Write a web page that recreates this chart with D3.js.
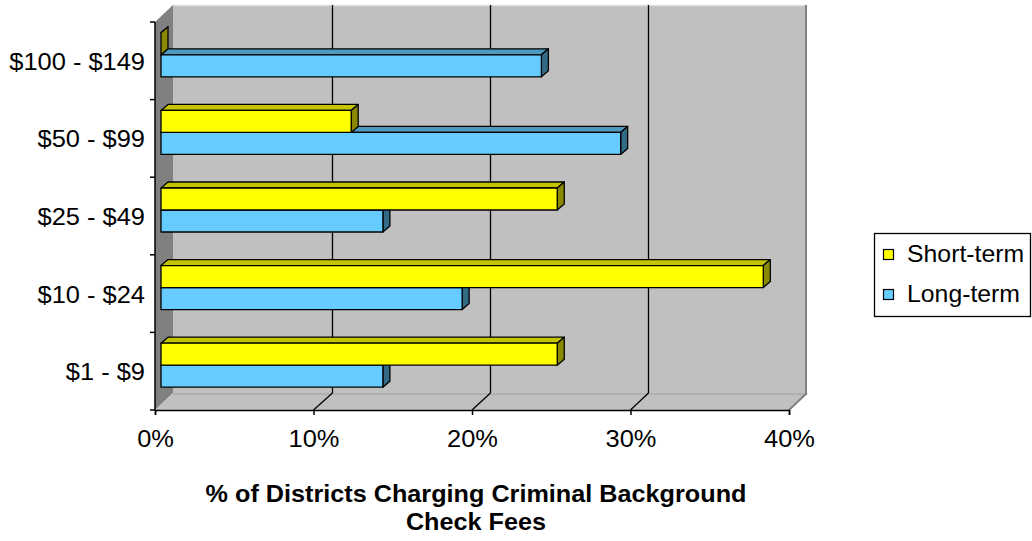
<!DOCTYPE html>
<html>
<head>
<meta charset="utf-8">
<script src="https://cdn.jsdelivr.net/npm/d3@7"></script>
<style>
  html, body { margin: 0; padding: 0; background: #ffffff; }
  svg { display: block; }
  text { font-family: "Liberation Sans", Arial, sans-serif; fill: #000; }
</style>
</head>
<body>
<svg id="chart" width="1032" height="541"></svg>
<script>
// Fee ranges, listed top to bottom as they appear on the chart
const categories = ["$100 - $149", "$50 - $99", "$25 - $49", "$10 - $24", "$1 - $9"];
const seriesNames = ["Short-term", "Long-term"];
// Share of districts charging each fee range (fractions)
const shortTerm = [0.00, 0.12, 0.25, 0.38, 0.25];
const longTerm  = [0.24, 0.29, 0.14, 0.19, 0.14];
const xTicks = [0, 0.1, 0.2, 0.3, 0.4];
const titleLines = ["% of Districts Charging Criminal Background", "Check Fees"];

const colors = {
  "Short-term": { front: "#ffff00", top: "#c4c400", side: "#8a8a00" },
  "Long-term":  { front: "#66ccff", top: "#4d99c0", side: "#336a86" }
};

const svg = d3.select("#chart");
const SX = 1.06; // slight horizontal stretch of the lettering
const FONT = '"Liberation Sans", Arial, sans-serif';

// Front plane of the 3-D plot box
const plot = { left: 155, right: 789, top: 22, bottom: 410 };
const depth = { dx: 18, dy: -17 };     // wall depth
const barOff = { dx: 6, dy: -6 };      // bars sit a third of the way back
const barDepth = { dx: 7, dy: -6 };

const x = d3.scaleLinear().domain([0, 0.4]).range([plot.left, plot.right]);
const y = d3.scaleBand().domain(categories)
  .range([plot.top, plot.bottom])
  .paddingInner(0.433).paddingOuter(0.2165);
const ySub = d3.scaleBand().domain(seriesNames).range([0, y.bandwidth()]);

const pts = a => a.map(p => p.join(",")).join(" ");

// ---- walls ----
const bx0 = plot.left + depth.dx, bx1 = plot.right + depth.dx;
const by0 = plot.top + depth.dy,  by1 = plot.bottom + depth.dy;

// side wall
svg.append("polygon")
  .attr("points", pts([[plot.left, plot.top], [bx0, by0], [bx0, by1], [plot.left, plot.bottom]]))
  .attr("fill", "#808080");
// back wall
svg.append("rect")
  .attr("x", bx0).attr("y", by0).attr("width", bx1 - bx0).attr("height", by1 - by0)
  .attr("fill", "#c0c0c0");
svg.append("line").attr("x1", bx0).attr("x2", bx1).attr("y1", by0 + 0.5).attr("y2", by0 + 0.5)
  .attr("stroke", "#e0e0e0").attr("stroke-width", 1.5);
svg.append("line").attr("x1", bx1 - 1).attr("x2", bx1 - 1).attr("y1", by0).attr("y2", by1)
  .attr("stroke", "#808080").attr("stroke-width", 2);
// floor
svg.append("polygon")
  .attr("points", pts([[plot.left, plot.bottom], [plot.right, plot.bottom], [bx1, by1], [bx0, by1]]))
  .attr("fill", "#c0c0c0");
svg.append("line").attr("x1", bx0).attr("x2", bx1).attr("y1", by1 + 1).attr("y2", by1 + 1)
  .attr("stroke", "#a0a0a0").attr("stroke-width", 1);
svg.append("line").attr("x1", plot.right).attr("y1", plot.bottom).attr("x2", bx1).attr("y2", by1)
  .attr("stroke", "#808080").attr("stroke-width", 2);

// gridlines on back wall and floor
const grid = svg.append("g").attr("stroke", "#000").attr("stroke-width", 1.3);
xTicks.filter(t => t > 0 && t < 0.4).forEach(t => {
  const gx = Math.round(x(t)) + depth.dx + 0.5;
  grid.append("line").attr("x1", gx).attr("x2", gx).attr("y1", by0).attr("y2", by1);
  grid.append("line").attr("x1", x(t)).attr("y1", plot.bottom).attr("x2", gx).attr("y2", by1);
});

// ---- bars ----
function drawBar(g, value, yTop, c) {
  const x0 = x(0) + barOff.dx, x1 = x(value) + barOff.dx;
  const y0 = yTop, h = ySub.bandwidth();
  const s = { stroke: "#000", "stroke-width": 1.3, "stroke-linejoin": "round" };
  const top = g.append("polygon").attr("points",
    pts([[x0, y0], [x0 + barDepth.dx, y0 + barDepth.dy], [x1 + barDepth.dx, y0 + barDepth.dy], [x1, y0]]))
    .attr("fill", c.top);
  const side = g.append("polygon").attr("points",
    pts([[x1, y0], [x1 + barDepth.dx, y0 + barDepth.dy], [x1 + barDepth.dx, y0 + h + barDepth.dy], [x1, y0 + h]]))
    .attr("fill", c.side);
  const front = g.append("rect").attr("x", x0).attr("y", y0).attr("width", Math.max(0, x1 - x0)).attr("height", h)
    .attr("fill", c.front);
  [top, side, front].forEach(el => Object.entries(s).forEach(([k, v]) => el.attr(k, v)));
}

const bars = svg.append("g");
categories.forEach((cat, i) => {
  const g = bars.append("g");
  // lower bar first so the upper one covers its top edge
  drawBar(g, longTerm[i], y(cat) + barOff.dy + ySub("Long-term"), colors["Long-term"]);
  drawBar(g, shortTerm[i], y(cat) + barOff.dy + ySub("Short-term"), colors["Short-term"]);
});

// ---- axes ----
// value axis along the front edge of the floor
const xAxis = d3.axisBottom(x).tickValues(xTicks).tickFormat(d3.format(".0%")).tickSize(5);
const gx = svg.append("g").attr("transform", `translate(0,${plot.bottom})`).call(xAxis);
gx.select(".domain").attr("stroke", "#000").attr("stroke-width", 1.5);
gx.selectAll(".tick line").attr("stroke", "#000").attr("stroke-width", 1.5);
gx.selectAll(".tick text")
  .style("font-family", FONT).style("font-size", "24px")
  .attr("y", 37).attr("dy", null)
  .attr("transform", `scale(${SX},1)`);

// category axis: labels at band centres, ticks at category boundaries
const yCenter = d3.scalePoint().domain(categories)
  .range([y(categories[0]) + y.bandwidth() / 2, y(categories[categories.length - 1]) + y.bandwidth() / 2]);
const yAxis = d3.axisLeft(yCenter).tickSize(0);
const gy = svg.append("g").attr("transform", `translate(${plot.left},0)`).call(yAxis);
gy.select(".domain").remove();
gy.selectAll(".tick text")
  .style("font-family", FONT).style("font-size", "24px")
  .attr("text-anchor", "end")
  .attr("x", -10 / SX).attr("dy", "0.35em")
  .attr("transform", `scale(${SX},1)`);
svg.append("line").attr("x1", plot.left).attr("x2", plot.left).attr("y1", plot.top).attr("y2", plot.bottom)
  .attr("stroke", "#000").attr("stroke-width", 1.5);
const bounds = d3.range(categories.length + 1).map(k => plot.top + k * y.step());
svg.append("g").selectAll("line").data(bounds).join("line")
  .attr("x1", plot.left - 5).attr("x2", plot.left).attr("y1", d => d).attr("y2", d => d)
  .attr("stroke", "#000").attr("stroke-width", 1.5);

// ---- axis title ----
const titleX = 476;
svg.append("g").selectAll("text").data(titleLines).join("text")
  .attr("transform", (d, i) => `translate(${titleX},${502 + i * 28}) scale(${SX},1)`)
  .attr("text-anchor", "middle")
  .style("font-family", FONT).style("font-size", "23.8px").style("font-weight", "bold")
  .text(d => d);

// ---- legend ----
const legend = svg.append("g").attr("transform", "translate(874,233)");
legend.append("rect").attr("x", 0.5).attr("y", 0.5).attr("width", 156).attr("height", 83)
  .attr("fill", "#fff").attr("stroke", "#000").attr("stroke-width", 1.3);
seriesNames.forEach((name, i) => {
  const ly = 21 + i * 40;
  legend.append("rect").attr("x", 9.5).attr("y", ly - 4.5).attr("width", 10).attr("height", 10)
    .attr("fill", colors[name].front).attr("stroke", "#000").attr("stroke-width", 1.2);
  legend.append("text")
    .attr("transform", `translate(33,${ly + 8}) scale(${SX},1)`)
    .style("font-family", FONT).style("font-size", "23.4px")
    .text(name);
});
</script>
</body>
</html>
